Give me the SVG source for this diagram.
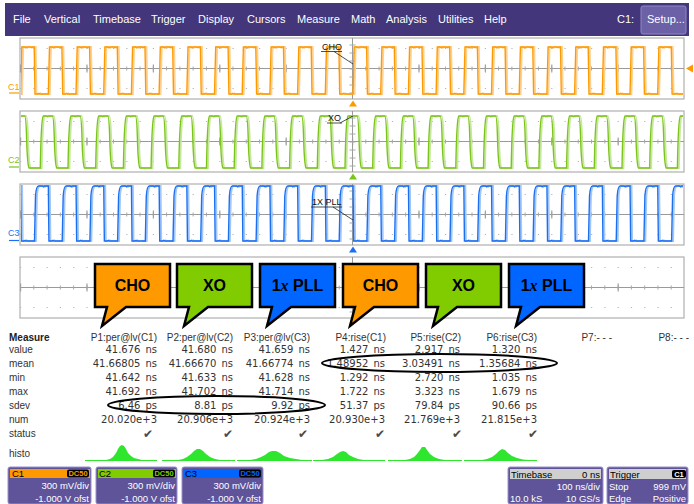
<svg xmlns="http://www.w3.org/2000/svg" xmlns:xlink="http://www.w3.org/1999/xlink" width="694" height="504" viewBox="0 0 694 504">
<style>
.menu{font:11px "Liberation Sans",Arial,sans-serif;fill:#fff}
.frame{fill:#fff;stroke:#b0b0b0;stroke-width:1.2}
.axis{stroke:#9a9a9a;stroke-width:1;fill:none}
.dots{stroke:#b5b5b5;stroke-width:1.2;stroke-dasharray:1.2 12.08;fill:none}
.sub{stroke:#a8a8a8;stroke-width:4;stroke-dasharray:1 12.28;fill:none}
.div{stroke:#a0a0a0;stroke-width:8;stroke-dasharray:1.2 65.2;fill:none}
.vt{stroke:#a8a8a8;stroke-width:6;stroke-dasharray:1 7;fill:none}
.chl{font:9px "Liberation Sans",Arial,sans-serif}
.tl{font:9px "Liberation Sans",Arial,sans-serif;fill:#111}
.lead{stroke:#222;stroke-width:0.8;fill:none}
.co{stroke:#000;stroke-width:2.5;stroke-linejoin:miter}
.cot{font:bold 16px "Liberation Sans",Arial,sans-serif;fill:#000;text-anchor:middle}
.lab{font:10px "Liberation Sans",Arial,sans-serif;fill:#333}
.labb{font:bold 10px "Liberation Sans",Arial,sans-serif;fill:#222}
.hdr{font:10px "Liberation Sans",Arial,sans-serif;fill:#333;text-anchor:end}
.num{font:10px "DejaVu Sans",sans-serif;fill:#333;text-anchor:end}
.chk{font:12px "DejaVu Sans",sans-serif;fill:#4a4a4a;text-anchor:middle}
.ell{fill:none;stroke:#000;stroke-width:2}
.histo{fill:#2ee62e}
.box{fill:#5f5399;stroke:#9a90c8;stroke-width:1}
.bt{font:9.5px "Liberation Sans",Arial,sans-serif;fill:#fff}
.bh{font:9.5px "Liberation Sans",Arial,sans-serif;fill:#000}
.badge{font:bold 7.5px "Liberation Sans",Arial,sans-serif;text-anchor:middle}
</style>
<defs>
<clipPath id="clipT"><rect x="21" y="30" width="662" height="230"/></clipPath>
<path id="p1" d="M0,94 h5 l1.2,-47 h3 l1,0.8 l1,-0.8 h4 l1,0.6 l1,-0.6 h1.4 l0.8,47 h3 l1,-0.7 l1,0.7 h3.3 h5 l1.2,-47 h3 l1,0.8 l1,-0.8 h4 l1,0.6 l1,-0.6 h1.4 l0.8,47 h3 l1,-0.7 l1,0.7 h3.3 h5 l1.2,-47 h3 l1,0.8 l1,-0.8 h4 l1,0.6 l1,-0.6 h1.4 l0.8,47 h3 l1,-0.7 l1,0.7 h3.3 h5 l1.2,-47 h3 l1,0.8 l1,-0.8 h4 l1,0.6 l1,-0.6 h1.4 l0.8,47 h3 l1,-0.7 l1,0.7 h3.3 h5 l1.2,-47 h3 l1,0.8 l1,-0.8 h4 l1,0.6 l1,-0.6 h1.4 l0.8,47 h3 l1,-0.7 l1,0.7 h3.3"/>
<path id="p2" d="M0,168 h5 c0.6,-35 1.2,-50 3,-52 h3 l1,0.7 l1,-0.7 h4 c1,0 1.6,8 2,22 c0.4,14 1,28 2.5,30 h6.2 h5 c0.6,-35 1.2,-50 3,-52 h3 l1,0.7 l1,-0.7 h4 c1,0 1.6,8 2,22 c0.4,14 1,28 2.5,30 h6.2 h5 c0.6,-35 1.2,-50 3,-52 h3 l1,0.7 l1,-0.7 h4 c1,0 1.6,8 2,22 c0.4,14 1,28 2.5,30 h6.2 h5 c0.6,-35 1.2,-50 3,-52 h3 l1,0.7 l1,-0.7 h4 c1,0 1.6,8 2,22 c0.4,14 1,28 2.5,30 h6.2 h5 c0.6,-35 1.2,-50 3,-52 h3 l1,0.7 l1,-0.7 h4 c1,0 1.6,8 2,22 c0.4,14 1,28 2.5,30 h6.2"/>
<path id="p3" d="M0,241 h5 l1,-45 c0.5,-7 1.5,-10 3,-10 h4 l1,0.8 l1,-0.8 h3.85 l0.6,55 h3 l1,-0.7 l1,0.7 h3.25 h5 l1,-45 c0.5,-7 1.5,-10 3,-10 h4 l1,0.8 l1,-0.8 h3.85 l0.6,55 h3 l1,-0.7 l1,0.7 h3.25 h5 l1,-45 c0.5,-7 1.5,-10 3,-10 h4 l1,0.8 l1,-0.8 h3.85 l0.6,55 h3 l1,-0.7 l1,0.7 h3.25 h5 l1,-45 c0.5,-7 1.5,-10 3,-10 h4 l1,0.8 l1,-0.8 h3.85 l0.6,55 h3 l1,-0.7 l1,0.7 h3.25 h5 l1,-45 c0.5,-7 1.5,-10 3,-10 h4 l1,0.8 l1,-0.8 h3.85 l0.6,55 h3 l1,-0.7 l1,0.7 h3.25"/>
<g id="row1"><use href="#p1" x="-122.9"/><use href="#p1" x="15.6"/><use href="#p1" x="154.1"/><use href="#p1" x="292.6"/><use href="#p1" x="431.1"/><use href="#p1" x="569.6"/></g>
<g id="row2"><use href="#p2" x="-130.9"/><use href="#p2" x="7.6"/><use href="#p2" x="146.1"/><use href="#p2" x="284.6"/><use href="#p2" x="423.1"/><use href="#p2" x="561.6"/></g>
<g id="row3"><use href="#p3" x="-136.7"/><use href="#p3" x="1.8"/><use href="#p3" x="140.3"/><use href="#p3" x="278.8"/><use href="#p3" x="417.3"/><use href="#p3" x="555.8"/></g>
<g id="grid">
<line class="dots" x1="20" x2="684" y1="-20" y2="-20"/>
<line class="dots" x1="20" x2="684" y1="20" y2="20"/>
<line class="axis" x1="20" x2="684" y1="0" y2="0"/>
<line class="sub" x1="20" x2="684" y1="0" y2="0"/>
<line class="div" x1="20" x2="684" y1="0" y2="0"/>
<line class="axis" x1="352.5" x2="352.5" y1="-30.5" y2="30.5"/>
<line class="vt" x1="352.5" x2="352.5" y1="-24" y2="28"/>
</g>
</defs>

<g id="menubar">
<rect x="5" y="3" width="684" height="33" fill="#43367a"/>
<text class="menu" x="13" y="23">File</text>
<text class="menu" x="44" y="23">Vertical</text>
<text class="menu" x="93" y="23">Timebase</text>
<text class="menu" x="151" y="23">Trigger</text>
<text class="menu" x="198" y="23">Display</text>
<text class="menu" x="247" y="23">Cursors</text>
<text class="menu" x="297" y="23">Measure</text>
<text class="menu" x="351" y="23">Math</text>
<text class="menu" x="386" y="23">Analysis</text>
<text class="menu" x="438" y="23">Utilities</text>
<text class="menu" x="484" y="23">Help</text>
<text class="menu" x="617" y="23">C1:</text>
<rect x="641" y="6" width="45" height="28" rx="2" fill="#6c60a6" stroke="#9088c4"/>
<text class="menu" x="647" y="23">Setup...</text>
</g>

<g id="panel-c1">
<rect class="frame" x="20" y="38" width="664" height="61"/>
<use href="#grid" y="68.5"/>
<g clip-path="url(#clipT)">
<use href="#row1" x="1.5" stroke="#ffd090" stroke-width="1.8" fill="none"/>
<use href="#row1" stroke="#ff9900" stroke-width="1.4" fill="none"/>
</g>
<text class="chl" x="8" y="89.5" fill="#ff9900">C1</text>
<line x1="9" y1="93" x2="19" y2="93" stroke="#ff9900" stroke-width="1.2"/>
<polygon points="686,68.5 693,64.5 693,72.5" fill="#ff9900"/>
<polygon points="353,100.5 349,106.5 357,106.5" fill="#ff9900"/>
<text class="tl" x="322" y="49.5">CHO</text>
<line x1="321" y1="51.5" x2="342" y2="51.5" stroke="#222" stroke-width="0.8"/>
</g>

<g id="panel-c2">
<rect class="frame" x="20" y="111" width="664" height="61"/>
<use href="#grid" y="141.5"/>
<g clip-path="url(#clipT)">
<use href="#row2" x="1.5" stroke="#c6e89c" stroke-width="1.8" fill="none"/>
<use href="#row2" stroke="#7cc41c" stroke-width="1.4" fill="none"/>
</g>
<text class="chl" x="8" y="163" fill="#7cc41c">C2</text>
<line x1="9" y1="167" x2="19" y2="167" stroke="#7cc41c" stroke-width="1.2"/>
<polygon points="353,173.5 349,179.5 357,179.5" fill="#7cc41c"/>
<text class="tl" x="328" y="121">XO</text>
<line x1="327" y1="123" x2="342" y2="123" stroke="#222" stroke-width="0.8"/>
</g>

<g id="panel-c3">
<rect class="frame" x="20" y="184" width="664" height="61"/>
<use href="#grid" y="214.5"/>
<g clip-path="url(#clipT)">
<use href="#row3" x="1.5" stroke="#a2c6ff" stroke-width="1.8" fill="none"/>
<use href="#row3" stroke="#1a6ff2" stroke-width="1.4" fill="none"/>
</g>
<text class="chl" x="8" y="236" fill="#1a6ff2">C3</text>
<line x1="9" y1="240.5" x2="19" y2="240.5" stroke="#1a6ff2" stroke-width="1.2"/>
<polygon points="353,246.5 349,252.5 357,252.5" fill="#1a6ff2"/>
<text class="tl" x="312" y="205">1X PLL</text>
<line x1="311" y1="207" x2="342" y2="207" stroke="#222" stroke-width="0.8"/>
</g>

<g id="panel-callouts">
<rect class="frame" x="20" y="257" width="664" height="61"/>
<use href="#grid" y="287.5"/>
</g>

<g id="connectors">
<line class="lead" x1="334" y1="51.5" x2="353" y2="64"/>
<line class="lead" x1="340" y1="123" x2="353" y2="116"/>
<line class="lead" x1="333" y1="207" x2="353" y2="220"/>
</g>

<g id="callout-cho-1">
<path class="co" fill="#ff9900" d="M95,264 H170 V307 H126 L102,326 L107,307 H95 Z"/>
<text class="cot" x="132.5" y="291">CHO</text>
</g>
<g id="callout-xo-1">
<path class="co" fill="#80cc00" d="M177,264 H252 V307 H208 L184,326 L189,307 H177 Z"/>
<text class="cot" x="214.5" y="291">XO</text>
</g>
<g id="callout-pll-1">
<path class="co" fill="#0066ff" d="M260,264 H335 V307 H291 L267,326 L272,307 H260 Z"/>
<text class="cot" x="297.5" y="291">1<tspan font-family="'Liberation Serif',serif" font-style="italic">x</tspan> PLL</text>
</g>
<g id="callout-cho-2">
<path class="co" fill="#ff9900" d="M343,264 H418 V307 H374 L350,326 L355,307 H343 Z"/>
<text class="cot" x="380.5" y="291">CHO</text>
</g>
<g id="callout-xo-2">
<path class="co" fill="#80cc00" d="M426,264 H501 V307 H457 L433,326 L438,307 H426 Z"/>
<text class="cot" x="463.5" y="291">XO</text>
</g>
<g id="callout-pll-2">
<path class="co" fill="#0066ff" d="M509,264 H584 V307 H540 L516,326 L521,307 H509 Z"/>
<text class="cot" x="546.5" y="291">1<tspan font-family="'Liberation Serif',serif" font-style="italic">x</tspan> PLL</text>
</g>

<g id="measure-table">
<text class="labb" x="9" y="340.5">Measure</text>
<text class="lab" x="9" y="352.5">value</text>
<text class="lab" x="9" y="366.5">mean</text>
<text class="lab" x="9" y="380.5">min</text>
<text class="lab" x="9" y="394.5">max</text>
<text class="lab" x="9" y="408.5">sdev</text>
<text class="lab" x="9" y="422.5">num</text>
<text class="lab" x="9" y="436.5">status</text>
<text class="lab" x="9" y="456.5">histo</text>

<text class="hdr" x="157" y="340.5">P1:per@lv(C1)</text>
<text class="hdr" x="233" y="340.5">P2:per@lv(C2)</text>
<text class="hdr" x="310" y="340.5">P3:per@lv(C3)</text>
<text class="hdr" x="386" y="340.5">P4:rise(C1)</text>
<text class="hdr" x="461" y="340.5">P5:rise(C2)</text>
<text class="hdr" x="537" y="340.5">P6:rise(C3)</text>
<text class="hdr" x="612" y="340.5">P7:- - -</text>
<text class="hdr" x="689" y="340.5">P8:- - -</text>

<text class="num" x="157" y="352.5">41.676<tspan dx="5">ns</tspan></text>
<text class="num" x="157" y="366.5">41.66805<tspan dx="5">ns</tspan></text>
<text class="num" x="157" y="380.5">41.642<tspan dx="5">ns</tspan></text>
<text class="num" x="157" y="394.5">41.692<tspan dx="5">ns</tspan></text>
<text class="num" x="157" y="408.5">6.46<tspan dx="5">ps</tspan></text>
<text class="num" x="157" y="422.5">20.020e+3</text>

<text class="num" x="233" y="352.5">41.680<tspan dx="5">ns</tspan></text>
<text class="num" x="233" y="366.5">41.66670<tspan dx="5">ns</tspan></text>
<text class="num" x="233" y="380.5">41.633<tspan dx="5">ns</tspan></text>
<text class="num" x="233" y="394.5">41.702<tspan dx="5">ns</tspan></text>
<text class="num" x="233" y="408.5">8.81<tspan dx="5">ps</tspan></text>
<text class="num" x="233" y="422.5">20.906e+3</text>

<text class="num" x="310" y="352.5">41.659<tspan dx="5">ns</tspan></text>
<text class="num" x="310" y="366.5">41.66774<tspan dx="5">ns</tspan></text>
<text class="num" x="310" y="380.5">41.628<tspan dx="5">ns</tspan></text>
<text class="num" x="310" y="394.5">41.714<tspan dx="5">ns</tspan></text>
<text class="num" x="310" y="408.5">9.92<tspan dx="5">ps</tspan></text>
<text class="num" x="310" y="422.5">20.924e+3</text>

<text class="num" x="385" y="352.5">1.427<tspan dx="5">ns</tspan></text>
<text class="num" x="385" y="366.5">1.48952<tspan dx="5">ns</tspan></text>
<text class="num" x="385" y="380.5">1.292<tspan dx="5">ns</tspan></text>
<text class="num" x="385" y="394.5">1.722<tspan dx="5">ns</tspan></text>
<text class="num" x="385" y="408.5">51.37<tspan dx="5">ps</tspan></text>
<text class="num" x="385" y="422.5">20.930e+3</text>

<text class="num" x="460" y="352.5">2.917<tspan dx="5">ns</tspan></text>
<text class="num" x="460" y="366.5">3.03491<tspan dx="5">ns</tspan></text>
<text class="num" x="460" y="380.5">2.720<tspan dx="5">ns</tspan></text>
<text class="num" x="460" y="394.5">3.323<tspan dx="5">ns</tspan></text>
<text class="num" x="460" y="408.5">79.84<tspan dx="5">ps</tspan></text>
<text class="num" x="460" y="422.5">21.769e+3</text>

<text class="num" x="537" y="352.5">1.320<tspan dx="5">ns</tspan></text>
<text class="num" x="537" y="366.5">1.35684<tspan dx="5">ns</tspan></text>
<text class="num" x="537" y="380.5">1.035<tspan dx="5">ns</tspan></text>
<text class="num" x="537" y="394.5">1.679<tspan dx="5">ns</tspan></text>
<text class="num" x="537" y="408.5">90.66<tspan dx="5">ps</tspan></text>
<text class="num" x="537" y="422.5">21.815e+3</text>

<text class="chk" x="148" y="437.5">✔</text>
<text class="chk" x="228" y="437.5">✔</text>
<text class="chk" x="303" y="437.5">✔</text>
<text class="chk" x="380" y="437.5">✔</text>
<text class="chk" x="457" y="437.5">✔</text>
<text class="chk" x="533" y="437.5">✔</text>

<ellipse class="ell" cx="439.5" cy="363" rx="117.5" ry="9"/>
<ellipse class="ell" cx="216.5" cy="405" rx="108.5" ry="9"/>

<path class="histo" d="M85,460 H106 L110,459 L113,457 L116,453 L118,449 L120,446 L122,445 L124,446 L126,449 L128,453 L131,456 L134,458 L138,459 L142,460 H157 V461 H85 Z"/>
<path class="histo" d="M162,460 H178 L183,459 L187,457 L191,454 L194,451 L197,449 L200,449 L203,451 L206,454 L210,457 L215,459 L220,460 H235 V461 H162 Z"/>
<path class="histo" d="M237,460 H250 L256,459 L261,457 L265,455 L269,452 L272,451 L276,451 L280,453 L284,456 L290,458 L296,459 L302,460 H312 V461 H237 Z"/>
<path class="histo" d="M313,460 H322 L328,459 L333,457 L337,454 L340,452 L343,451 L346,452 L349,455 L353,457 L358,459 L364,460 H385 V461 H313 Z"/>
<path class="histo" d="M388,460 H405 L410,459 L414,457 L417,454 L420,450 L422,447 L425,447 L427,450 L430,454 L434,457 L439,459 L445,460 H462 V461 H388 Z"/>
<path class="histo" d="M464,460 H482 L487,459 L492,457 L496,454 L499,451 L502,449 L505,450 L508,453 L512,456 L517,458 L523,459.5 L528,460 H537 V461 H464 Z"/>
</g>

<g id="box-c1">
<rect class="box" x="8" y="467" width="83" height="37" rx="2"/>
<rect x="10" y="469" width="80" height="9" fill="#ff9900"/>
<text class="bh" x="12" y="477">C1</text>
<rect x="67" y="469.5" width="22" height="8" rx="2" fill="#000"/>
<text class="badge" x="78" y="476.3" fill="#ff9900">DC50</text>
<text class="bt" x="89" y="488.5" text-anchor="end">300 mV/div</text>
<text class="bt" x="89" y="501.5" text-anchor="end">-1.000 V ofst</text>
</g>
<g id="box-c2">
<rect class="box" x="96" y="467" width="81" height="37" rx="2"/>
<rect x="98" y="469" width="78" height="9" fill="#80cc00"/>
<text class="bh" x="99" y="477">C2</text>
<rect x="153" y="469.5" width="22" height="8" rx="2" fill="#000"/>
<text class="badge" x="164" y="476.3" fill="#80cc00">DC50</text>
<text class="bt" x="175" y="488.5" text-anchor="end">300 mV/div</text>
<text class="bt" x="175" y="501.5" text-anchor="end">-1.000 V ofst</text>
</g>
<g id="box-c3">
<rect class="box" x="182" y="467" width="81" height="37" rx="2"/>
<rect x="184" y="469" width="78" height="9" fill="#0066ff"/>
<text class="bh" x="185" y="477">C3</text>
<rect x="239" y="469.5" width="22" height="8" rx="2" fill="#000"/>
<text class="badge" x="250" y="476.3" fill="#0066ff">DC50</text>
<text class="bt" x="261" y="488.5" text-anchor="end">300 mV/div</text>
<text class="bt" x="261" y="501.5" text-anchor="end">-1.000 V ofst</text>
</g>
<g id="box-timebase">
<rect class="box" x="508" y="467" width="95" height="37" rx="2"/>
<rect x="510" y="469" width="91" height="10" fill="#cfcfcf"/>
<text class="bh" x="511" y="477.5">Timebase</text>
<text class="bh" x="600" y="477.5" text-anchor="end">0 ns</text>
<text class="bt" x="600" y="490" text-anchor="end">100 ns/div</text>
<text class="bt" x="510" y="501.5">10.0 kS</text>
<text class="bt" x="600" y="501.5" text-anchor="end">10 GS/s</text>
</g>
<g id="box-trigger">
<rect class="box" x="607" y="467" width="81" height="37" rx="2"/>
<rect x="609" y="469" width="77" height="10" fill="#cfcfcf"/>
<text class="bh" x="610" y="477.5">Trigger</text>
<rect x="672" y="470" width="14" height="8" rx="2" fill="#000"/>
<text class="badge" x="679" y="476.8" fill="#fff">C1</text>
<text class="bt" x="609" y="490">Stop</text>
<text class="bt" x="686" y="490" text-anchor="end">999 mV</text>
<text class="bt" x="609" y="501.5">Edge</text>
<text class="bt" x="686" y="501.5" text-anchor="end">Positive</text>
</g>
</svg>
